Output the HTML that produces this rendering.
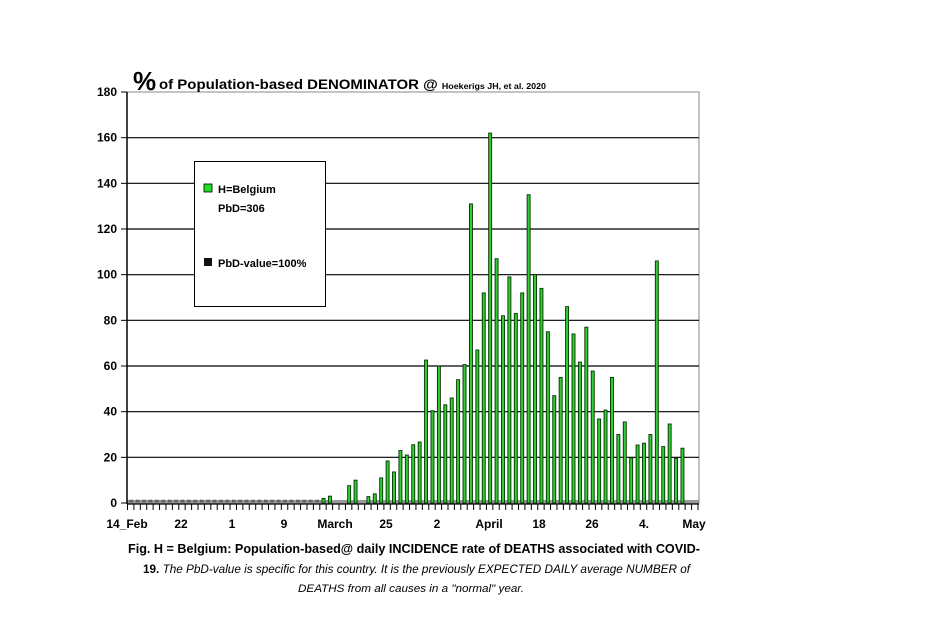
<!DOCTYPE html>
<html><head><meta charset="utf-8"><style>
body{margin:0;background:#fff;width:925px;height:626px;overflow:hidden}
svg{position:absolute;left:0;top:0}
text{font-family:"Liberation Sans",sans-serif;font-weight:bold}
.it{font-style:italic;font-weight:normal}
</style></head><body>
<svg id="s" width="925" height="626" viewBox="0 0 925 626">
<rect x="127" y="92" width="572" height="411" fill="#fff" stroke="#888" stroke-width="1"/>
<g id="grid" stroke="#000" stroke-width="1.2"></g>
<rect x="127" y="500" width="572" height="4" fill="#999"/>
<line x1="127" y1="92" x2="127" y2="504" stroke="#000" stroke-width="1.5"/>
<line x1="127" y1="504" x2="699" y2="504" stroke="#000" stroke-width="1.2"/>
<g id="bars"></g>
<g id="ticks" stroke="#000" stroke-width="1"></g>
<g id="ylab" font-size="12" text-anchor="end"></g>
<g font-size="12" text-anchor="middle">
<text x="127" y="528">14_Feb</text><text x="181" y="528">22</text><text x="232" y="528">1</text>
<text x="284" y="528">9</text><text x="335" y="528">March</text><text x="386" y="528">25</text>
<text x="437" y="528">2</text><text x="489" y="528">April</text><text x="539" y="528">18</text>
<text x="592" y="528">26</text><text x="644" y="528">4.</text><text x="694" y="528">May</text>
</g>
<text x="133" y="90" font-size="26">%</text>
<text x="159" y="89" font-size="13.5" textLength="387" lengthAdjust="spacingAndGlyphs">of Population-based DENOMINATOR @ <tspan font-size="8">Hoekerigs JH, et al. 2020</tspan></text>
<rect x="194.5" y="161.5" width="131" height="145" fill="#fff" stroke="#000" stroke-width="1"/>
<rect x="204" y="184" width="8" height="8" fill="#2d2" stroke="#000" stroke-width="0.8"/>
<text x="218" y="193" font-size="11">H=Belgium</text>
<text x="218" y="212" font-size="11">PbD=306</text>
<rect x="204" y="258" width="8" height="8" fill="#111"/>
<text x="218" y="267" font-size="11">PbD-value=100%</text>
<text x="128" y="553" font-size="12.5" textLength="572" lengthAdjust="spacingAndGlyphs">Fig. H = Belgium: Population-based@ daily INCIDENCE rate of DEATHS associated with COVID-</text>
<text x="143" y="573" font-size="11.5" textLength="547" lengthAdjust="spacingAndGlyphs">19. <tspan class="it">The PbD-value is specific for this country. It is the previously EXPECTED DAILY average NUMBER of</tspan></text>
<text x="298" y="592" font-size="11" class="it" textLength="226" lengthAdjust="spacingAndGlyphs">DEATHS from all causes in a "normal" year.</text>
</svg>
<script>
var NS="http://www.w3.org/2000/svg";
function el(p,t,a){var e=document.createElementNS(NS,t);for(var k in a)e.setAttribute(k,a[k]);document.getElementById(p).appendChild(e);return e;}
var y0=503,sc=411/180;
for(var v=20;v<=160;v+=20){var y=y0-v*sc;el("grid","line",{x1:127,x2:699,y1:y,y2:y});}
for(var v=0;v<=180;v+=20){var y=y0-v*sc;var t=el("ylab","text",{x:117,y:y+4});t.textContent=v;el("ticks","line",{x1:121,x2:127,y1:y,y2:y});}
var vals=[2,3,0,0,7.6,10,0,2.8,4,11,18.4,13.6,23,21,25.5,26.7,62.6,40.4,60,43,46,54,60.6,131,67,92,162,107,82,99,83,92,135,100,94,75,47,55,86,74,61.7,77,57.8,36.8,40.7,55,30,35.5,19.8,25.4,26.2,30,106,24.7,34.6,19.6,24];
var dx=6.41,xs=323-30*dx;
for(var i=0;i<30;i++){var cx=xs+i*dx;el("bars","rect",{x:cx-1,y:y0-3,width:3,height:2,fill:"#777",stroke:"#444","stroke-width":0.5});}
for(var i=0;i<vals.length;i++){if(!vals[i])continue;var cx=323+i*dx,h=vals[i]*sc;
el("bars","rect",{x:cx-1,y:y0-h,width:3,height:h,fill:"#3c3",stroke:"#030","stroke-width":0.9});}
for(var x=xs-dx/2;x<=700;x+=dx){el("ticks","line",{x1:x,x2:x,y1:504,y2:510});}
</script>
</body></html>
